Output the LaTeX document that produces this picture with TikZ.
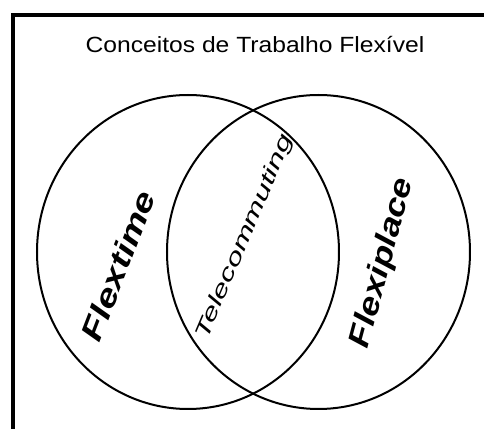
\documentclass[tikz,border=0pt]{standalone}
\usepackage{fontspec}
\setmainfont{Liberation Sans}

\begin{document}
\begin{tikzpicture}[x=0.5pt, y=0.5pt,
	word/.style={font=\bfseries\itshape\fontsize{15}{15}\selectfont, inner sep=0pt}]
	\useasboundingbox (0,0) rectangle (484,429);
	\clip (0,0) rectangle (484,429);
	\draw[line width=1.6pt] (13,-20) -- (13,414) -- (500,414);
	\coordinate (left) at (188,177); \coordinate (right) at (318.5,177);
	\draw[line width=1pt] (left) ellipse [x radius=151, y radius=157];
	\draw[line width=1pt] (right) ellipse [x radius=151.5, y radius=157];
	\node[font=\fontsize{11}{11}\selectfont, xscale=1.12] (title) at (255,384) {Conceitos de Trabalho Flexível};
	\node[word, rotate=69, xscale=1.3] (flextime) at (118,163) {Flextime};
	\node[word, font=\itshape\fontsize{10.5}{10.5}\selectfont, rotate=67, xscale=1.55] (telecom) at (245,192) {Telecommuting};
	\node[word, rotate=75, xscale=1.2] (flexiplace) at (383,166) {Flexiplace};
\end{tikzpicture}
\end{document}
